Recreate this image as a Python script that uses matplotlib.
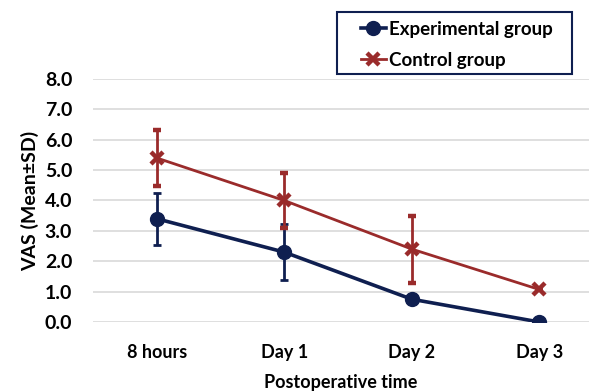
import numpy as np
import matplotlib as mpl
mpl.use('Agg')
import matplotlib.pyplot as plt
from matplotlib.lines import Line2D
from matplotlib.patches import Rectangle

plt.rcParams['font.family'] = ['Lato', 'DejaVu Sans']
plt.rcParams['font.weight'] = 'bold'

# VAS scores
times = ['8 hours', 'Day 1', 'Day 2', 'Day 3']
exp_mean = [3.4, 2.3, 0.75, 0.0]
exp_sd = [0.85, 0.93, 0.0, 0.0]
ctrl_mean = [5.4, 4.0, 2.4, 1.07]
ctrl_sd = [0.92, 0.92, 1.1, 0.0]
yticks = [0, 1, 2, 3, 4, 5, 6, 7, 8]

navy = '#0f1f50'
red = '#9a2b2b'

fig = plt.figure(figsize=(5.89, 3.92), dpi=100)
ax = fig.add_axes([93/589, 70/392, 1 - 93/589, 243/392])

x = np.arange(len(times))
ax.errorbar(x, exp_mean, yerr=exp_sd, color=navy, lw=2.6, marker='o', ms=10,
            elinewidth=2, capsize=3, capthick=2, zorder=3)
ax.errorbar(x, ctrl_mean, yerr=ctrl_sd, color=red, lw=2, marker='x', ms=8, mew=3.2,
            elinewidth=2, capsize=3, capthick=2, zorder=3)

ax.set_xlim(-0.5, 3.39)
ax.set_ylim(0, 8)
ax.set_xticks(x)
ax.set_xticklabels(times, fontsize=13, fontweight='bold')
ax.set_yticks(yticks)
ax.set_yticklabels([f'{v:.1f}' for v in yticks], fontsize=14, fontweight='bold')
ax.tick_params(axis='y', length=0, pad=15)
ax.tick_params(axis='x', length=0, pad=16)
ax.yaxis.grid(True, color='#d9d9d9', lw=1.2)
ax.set_axisbelow(True)
for s in ax.spines.values():
    s.set_visible(False)

ax.set_ylabel('VAS (Mean±SD)', fontsize=14, fontweight='bold', labelpad=4)
ax.set_xlabel('Postoperative time', fontsize=13, fontweight='bold', labelpad=9)

# legend box drawn separately so its size matches the original
fig.patches.append(Rectangle((337/589, 1 - 74/392), 235/589, 62/392,
                             transform=fig.transFigure, fill=False,
                             edgecolor=navy, lw=1.5))
handles = [Line2D([], [], color=navy, lw=2.6, marker='o', ms=10),
           Line2D([], [], color=red, lw=2, marker='x', ms=8, mew=3.2)]
leg = fig.legend(handles, ['Experimental group', 'Control group'],
                 loc='upper left', bbox_to_anchor=(357/589, 1 - 17/392),
                 borderaxespad=0, fontsize=13.5, frameon=False,
                 handlelength=1.35, handletextpad=0.15,
                 borderpad=0.2, labelspacing=0.75)
for t in leg.get_texts():
    t.set_fontweight('bold')

plt.savefig('out.png', dpi=100)
